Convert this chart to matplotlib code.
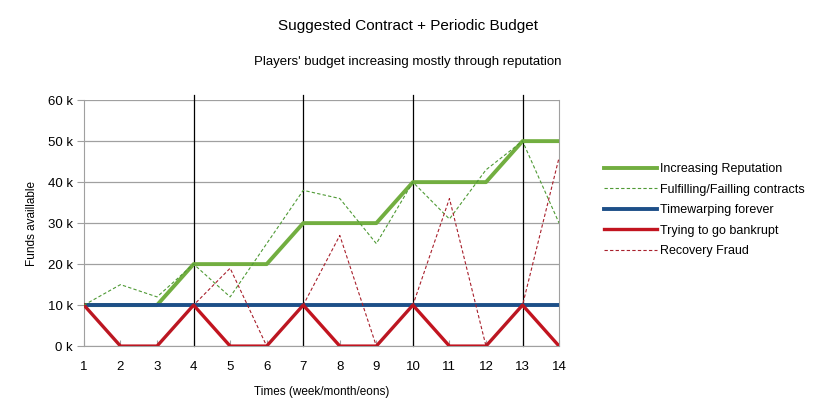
import matplotlib.pyplot as plt

plt.rcParams['font.family'] = ['Liberation Sans', 'DejaVu Sans']

# Data
times = list(range(1, 15))
reputation = [10, 10, 10, 20, 20, 20, 30, 30, 30, 40, 40, 40, 50, 50]
contracts = [10, 15, 12, 20, 12, 25, 38, 36, 25, 40, 31, 43, 50, 30]
timewarp = [10] * 14
bankrupt = [10, 0, 0, 10, 0, 0, 10, 0, 0, 10, 0, 0, 10, 0]
fraud = [10, 0, 0, 10, 19, 0, 10, 27, 0, 10, 36, 0, 10, 46]
periods = [4, 7, 10, 13]
yticks = [0, 10, 20, 30, 40, 50, 60]

fig = plt.figure(figsize=(8.15, 4.19), dpi=100)
ax = fig.add_axes([0.103, 0.174, 0.583, 0.587])

# vertical period markers
for p in periods:
    ax.plot([p, p], [0, 61.2], color='black', linewidth=0.9, clip_on=False, zorder=2)

ax.plot(times, reputation, color='#72ae40', linewidth=2.8, label='Increasing Reputation', zorder=4)
ax.plot(times, contracts, color='#4f9a35', linewidth=0.8, linestyle=(0, (3, 2)),
        label='Fulfilling/Failling contracts', zorder=5)
ax.plot(times, timewarp, color='#1d4f88', linewidth=2.8, label='Timewarping forever', zorder=4)
ax.plot(times, bankrupt, color='#c2141f', linewidth=2.4, label='Trying to go bankrupt', zorder=4)
ax.plot(times, fraud, color='#a8202c', linewidth=0.8, linestyle=(0, (3, 2)),
        label='Recovery Fraud', zorder=5)

ax.set_xlim(1, 14)
ax.set_ylim(0, 60)
ax.set_xticks(times)
ax.set_yticks(yticks)
ax.set_yticklabels([f'{v} k' for v in yticks])
ax.yaxis.grid(True, color='#a0a0a0', linewidth=0.9)
ax.set_axisbelow(True)
ax.spines['top'].set_visible(False)
for s in ['left', 'right', 'bottom']:
    ax.spines[s].set_color('#a0a0a0')
ax.tick_params(axis='y', length=5, color='#a0a0a0', labelsize=9.5, pad=3)
ax.tick_params(axis='x', length=4, color='#a0a0a0', direction='in', labelsize=9.5, pad=11)

ax.set_xlabel('Times (week/month/eons)', fontsize=8.5, labelpad=9)
ax.set_ylabel('Funds availlable', fontsize=8.5, labelpad=7)

fig.text(0.5, 0.938, 'Suggested Contract + Periodic Budget', ha='center', va='center', fontsize=11)
fig.text(0.5, 0.852, "Players' budget increasing mostly through reputation", ha='center', va='center', fontsize=9.5)

fig.legend(loc='center left', bbox_to_anchor=(0.733, 0.498), frameon=False, fontsize=9,
           handlelength=4.3, handletextpad=0.2, labelspacing=0.68, borderpad=0)

fig.savefig('out.png', dpi=100)
